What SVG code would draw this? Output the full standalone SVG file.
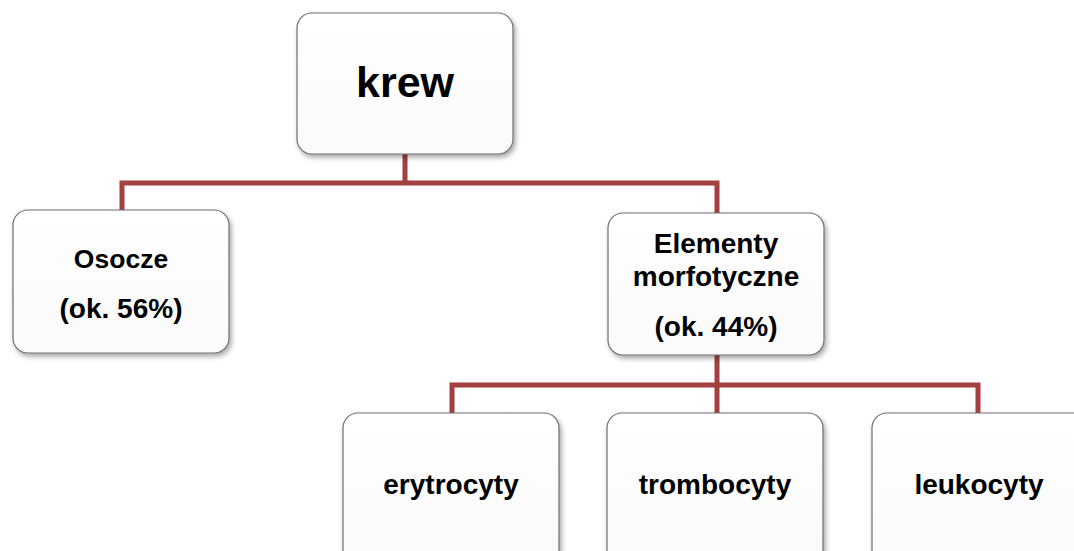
<svg xmlns="http://www.w3.org/2000/svg" width="1074" height="551" viewBox="0 0 1074 551">
<style>
.box{fill:url(#g);stroke:#6e6e6e;stroke-width:1.2;filter:url(#sh)}
.t{font-family:"Liberation Sans",Arial,sans-serif;font-weight:bold;fill:#000;text-anchor:middle;font-size:28px}
.c{fill:none;stroke:#a33f3f;stroke-width:5;stroke-linejoin:miter}
</style>
<defs>
<linearGradient id="g" x1="0" y1="0" x2="0" y2="1"><stop offset="0" stop-color="#ffffff"/><stop offset="1" stop-color="#fafafa"/></linearGradient>
<filter id="sh" x="-10%" y="-10%" width="125%" height="125%"><feDropShadow dx="2" dy="3" stdDeviation="2.5" flood-color="#000" flood-opacity="0.35"/></filter>
</defs>
<rect width="1074" height="551" fill="#fff"/>
<g id="connectors">
<path class="c" d="M405 154 V183 M122 210 V183 H717 V213"/>
<path class="c" d="M717 355 V413 M452 413 V385 H978 V413"/>
</g>
<g id="krew"><rect class="box" x="297" y="13" width="216" height="141" rx="15"/><text class="t" x="405" y="97" style="font-size:43px">krew</text></g>
<g id="osocze"><rect class="box" x="13" y="210" width="216" height="143" rx="15"/><text class="t" x="121" y="268" style="font-size:26.5px">Osocze</text><text class="t" x="121" y="318">(ok. 56%)</text></g>
<g id="elementy"><rect class="box" x="608" y="213" width="216" height="142" rx="15"/><text class="t" x="716" y="253">Elementy</text><text class="t" x="716" y="286">morfotyczne</text><text class="t" x="716" y="336">(ok. 44%)</text></g>
<g id="erytrocyty"><rect class="box" x="343" y="413" width="216" height="160" rx="15"/><text class="t" x="451" y="494">erytrocyty</text></g>
<g id="trombocyty"><rect class="box" x="607" y="413" width="216" height="160" rx="15"/><text class="t" x="715" y="494">trombocyty</text></g>
<g id="leukocyty"><rect class="box" x="872" y="413" width="216" height="160" rx="15"/><text class="t" x="979" y="494">leukocyty</text></g>
</svg>
